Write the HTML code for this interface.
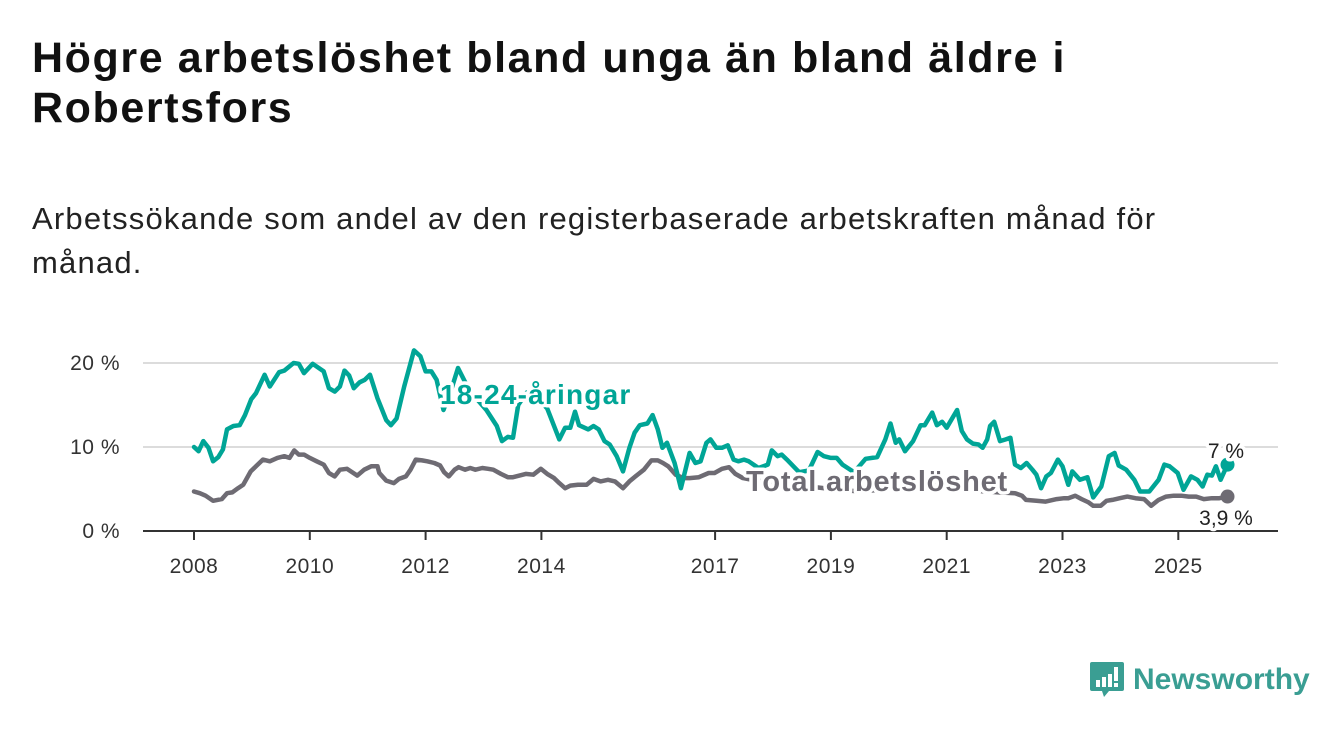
<!DOCTYPE html>
<html><head><meta charset="utf-8"><style>
body{margin:0;background:#fff;font-family:"Liberation Sans","DejaVu Sans",sans-serif;}
#wrap{position:relative;width:1340px;height:734px;overflow:hidden;}
h1{position:absolute;left:32px;top:33px;margin:0;font-size:43px;line-height:50px;font-weight:bold;color:#111;width:1090px;letter-spacing:1.6px;}
.sub{position:absolute;left:32px;top:197px;margin:0;font-size:31px;line-height:44px;color:#222;width:1180px;letter-spacing:1.2px;}
svg{position:absolute;left:0;top:0;}
.logo{position:absolute;left:1089px;top:660px;display:flex;align-items:center;color:#3a9e93;font-size:30px;font-weight:bold;}
</style></head><body><div id="wrap">
<h1>Högre arbetslöshet bland unga än bland äldre i Robertsfors</h1>
<p class="sub">Arbetssökande som andel av den registerbaserade arbetskraften månad för månad.</p>
<svg id="chart" width="1340" height="734"></svg>
<div class="logo">
<svg width="36" height="40" style="position:static;margin-right:8px"><path d="M3 2h30a2 2 0 0 1 2 2v25a2 2 0 0 1-2 2H20l-5 6-2-6H3a2 2 0 0 1-2-2V4a2 2 0 0 1 2-2z" fill="#3a9e93"/><rect x="7" y="20" width="4" height="7" fill="#fff"/><rect x="13" y="17" width="4" height="10" fill="#fff"/><rect x="19" y="14" width="4" height="13" fill="#fff"/><rect x="25" y="7" width="4" height="14" fill="#fff"/><rect x="25" y="23" width="4" height="4" fill="#fff"/></svg>
<span>Newsworthy</span></div>
</div>
<script>
const yTicks=[0,10,20];
const yTickLabels=["0 %","10 %","20 %"];
const xTicks=[2008,2010,2012,2014,2017,2019,2021,2023,2025];
const youthDates=[2008.0,2008.08,2008.16,2008.25,2008.33,2008.42,2008.5,2008.57,2008.68,2008.79,2008.88,2008.99,2009.07,2009.22,2009.31,2009.47,2009.56,2009.72,2009.81,2009.9,2010.05,2010.24,2010.33,2010.43,2010.52,2010.6,2010.68,2010.76,2010.86,2010.95,2011.04,2011.17,2011.32,2011.4,2011.5,2011.63,2011.8,2011.91,2012.0,2012.1,2012.19,2012.31,2012.45,2012.56,2012.7,2012.85,2013.05,2013.23,2013.32,2013.42,2013.51,2013.6,2013.75,2013.9,2014.1,2014.31,2014.41,2014.5,2014.58,2014.65,2014.81,2014.9,2014.99,2015.09,2015.18,2015.3,2015.41,2015.52,2015.61,2015.7,2015.83,2015.92,2016.01,2016.09,2016.17,2016.3,2016.41,2016.56,2016.66,2016.75,2016.85,2016.92,2017.02,2017.12,2017.22,2017.32,2017.4,2017.5,2017.58,2017.75,2017.91,2017.98,2018.08,2018.15,2018.24,2018.45,2018.62,2018.77,2018.88,2019.0,2019.1,2019.2,2019.4,2019.6,2019.8,2019.94,2020.03,2020.12,2020.18,2020.28,2020.42,2020.55,2020.62,2020.75,2020.83,2020.92,2021.0,2021.18,2021.26,2021.35,2021.45,2021.55,2021.62,2021.7,2021.75,2021.82,2021.92,2022.02,2022.1,2022.18,2022.28,2022.38,2022.48,2022.55,2022.63,2022.72,2022.8,2022.92,2023.0,2023.1,2023.17,2023.3,2023.43,2023.53,2023.67,2023.8,2023.9,2023.97,2024.1,2024.24,2024.34,2024.5,2024.66,2024.76,2024.85,2024.99,2025.09,2025.22,2025.33,2025.42,2025.5,2025.58,2025.65,2025.73,2025.85];
const youthValues=[10.0,9.5,10.7,9.9,8.3,8.8,9.7,12.1,12.5,12.6,13.8,15.7,16.4,18.6,17.2,18.9,19.1,20.0,19.9,18.8,19.9,19.0,17.0,16.6,17.2,19.1,18.5,17.0,17.7,18.0,18.6,15.8,13.2,12.6,13.4,17.2,21.5,20.8,19.0,19.0,18.0,14.4,17.0,19.4,17.5,16.0,14.4,12.5,10.7,11.2,11.1,15.0,16.5,16.0,14.6,10.9,12.3,12.3,14.2,12.6,12.1,12.5,12.1,10.7,10.3,8.9,7.1,9.9,11.7,12.6,12.8,13.8,12.1,9.9,10.5,8.1,5.1,9.3,8.1,8.3,10.5,10.9,9.9,9.9,10.2,8.5,8.3,8.5,8.3,7.5,7.9,9.6,8.9,9.1,8.5,7.0,7.2,9.4,8.9,8.7,8.7,7.9,7.0,8.6,8.8,10.9,12.8,10.5,10.9,9.5,10.7,12.6,12.6,14.1,12.6,13.0,12.3,14.4,11.9,10.9,10.4,10.3,9.9,10.9,12.5,13.0,10.7,10.9,11.1,7.9,7.5,8.1,7.3,6.7,5.1,6.5,6.9,8.5,7.7,5.5,7.1,6.1,6.4,4.0,5.3,8.9,9.3,7.8,7.3,6.1,4.7,4.7,6.1,7.9,7.7,6.9,4.9,6.5,6.1,5.3,6.7,6.6,7.7,6.1,7.9,7.1];
const totalDates=[2008.0,2008.1,2008.2,2008.33,2008.48,2008.57,2008.66,2008.76,2008.85,2008.98,2009.07,2009.19,2009.31,2009.44,2009.56,2009.65,2009.73,2009.81,2009.9,2010.0,2010.12,2010.24,2010.33,2010.43,2010.52,2010.64,2010.82,2010.94,2011.06,2011.17,2011.2,2011.32,2011.45,2011.54,2011.66,2011.74,2011.83,2011.94,2012.03,2012.15,2012.25,2012.32,2012.4,2012.5,2012.57,2012.68,2012.77,2012.86,2012.98,2013.08,2013.17,2013.3,2013.42,2013.51,2013.62,2013.73,2013.86,2013.99,2014.1,2014.22,2014.31,2014.41,2014.5,2014.63,2014.78,2014.9,2015.02,2015.15,2015.27,2015.41,2015.52,2015.64,2015.77,2015.9,2016.01,2016.1,2016.19,2016.32,2016.45,2016.56,2016.72,2016.89,2016.99,2017.12,2017.24,2017.35,2017.48,2017.7,2018.0,2018.5,2019.0,2019.5,2020.0,2020.5,2021.0,2021.5,2021.9,2022.18,2022.3,2022.37,2022.55,2022.71,2022.9,2023.03,2023.1,2023.22,2023.33,2023.45,2023.53,2023.66,2023.76,2023.86,2023.99,2024.12,2024.26,2024.41,2024.53,2024.66,2024.79,2024.92,2025.05,2025.18,2025.31,2025.44,2025.58,2025.71,2025.85];
const totalValues=[4.7,4.5,4.2,3.6,3.8,4.5,4.6,5.1,5.5,7.1,7.7,8.5,8.3,8.7,8.9,8.7,9.6,9.1,9.1,8.7,8.3,7.9,6.9,6.5,7.3,7.4,6.6,7.3,7.7,7.7,6.9,6.0,5.7,6.2,6.5,7.3,8.5,8.4,8.3,8.1,7.8,7.0,6.5,7.3,7.6,7.3,7.5,7.3,7.5,7.4,7.3,6.8,6.4,6.4,6.6,6.8,6.7,7.4,6.8,6.3,5.7,5.1,5.4,5.5,5.5,6.2,5.9,6.1,5.9,5.1,5.9,6.6,7.3,8.4,8.4,8.1,7.7,6.7,6.3,6.3,6.4,6.9,6.9,7.4,7.6,6.8,6.3,6.0,5.8,5.4,5.0,4.7,5.0,5.6,5.4,4.8,4.6,4.5,4.2,3.7,3.6,3.5,3.8,3.9,3.9,4.2,3.8,3.4,3.0,3.0,3.6,3.7,3.9,4.1,3.9,3.8,3.0,3.7,4.1,4.2,4.2,4.1,4.1,3.8,3.9,3.9,4.1,3.9];
const NS="http://www.w3.org/2000/svg";
const svg=document.getElementById('chart');
const X0=143,X1=1278;
function xs(y){return 194+(y-2008)*57.9;}
function ys(v){return 531-v*8.4;}
function mk(t,a,p){const e=document.createElementNS(NS,t);for(const k in a)e.setAttribute(k,a[k]);(p||svg).appendChild(e);return e;}
yTicks.forEach((t,i)=>{
  if(t>0){const g=mk('line',{x1:X0,x2:X1,y1:ys(t),y2:ys(t),stroke:'#dcdcdc','stroke-width':2});
  
  }
  const l=mk('text',{x:120,y:ys(t)+7,'text-anchor':'end','font-size':21,fill:'#333','letter-spacing':0.5,'font-family':'Liberation Sans, sans-serif'});
  l.textContent=yTickLabels[i];
  
  
});
const ax=mk('line',{x1:X0,x2:X1,y1:531,y2:531,stroke:'#333','stroke-width':2});


xTicks.forEach(t=>{
  const tk=mk('line',{x1:xs(t),x2:xs(t),y1:531,y2:540,stroke:'#333','stroke-width':2});
  
  
  const l=mk('text',{x:xs(t),y:573,'text-anchor':'middle','font-size':21,fill:'#333','letter-spacing':0.5,'font-family':'Liberation Sans, sans-serif'});
  l.textContent=t;
  
  
});
function series(d,v,c,name){
  const p=mk('path',{d:d.map((t,i)=>(i?'L':'M')+xs(t).toFixed(1)+' '+ys(v[i]).toFixed(1)).join(''),fill:'none',stroke:c,'stroke-width':4.5,'stroke-linejoin':'round','stroke-linecap':'round'});
  
  
  const n=d.length-1;
  const dot=mk('circle',{cx:xs(d[n]),cy:ys(v[n]),r:7,fill:c});
  
  
}
series(totalDates,totalValues,'#6e6b73','total');
series(youthDates,youthValues,'#00a596','youth');
function lbl(x,y,txt,c,fs,w,name,anchor,ls){
  const t=mk('text',{x:x,y:y,fill:c,'font-size':fs,'font-weight':w,'text-anchor':anchor||'start','letter-spacing':ls||0,stroke:'#fff','stroke-width':7,'paint-order':'stroke','stroke-linejoin':'round','font-family':'Liberation Sans, sans-serif'});
  t.textContent=txt;
  
  
}
lbl(440,404,'18-24-åringar','#00a596',28,'bold','youth-series-label','start',1.2);
lbl(746,491,'Total arbetslöshet','#6e6b73',29,'bold','total-series-label','start',0.8);
lbl(1226,458,'7 %','#222',21,'normal','youth-end-value','middle');
lbl(1226,525,'3,9 %','#222',21,'normal','total-end-value','middle');
</script>
</body></html>
